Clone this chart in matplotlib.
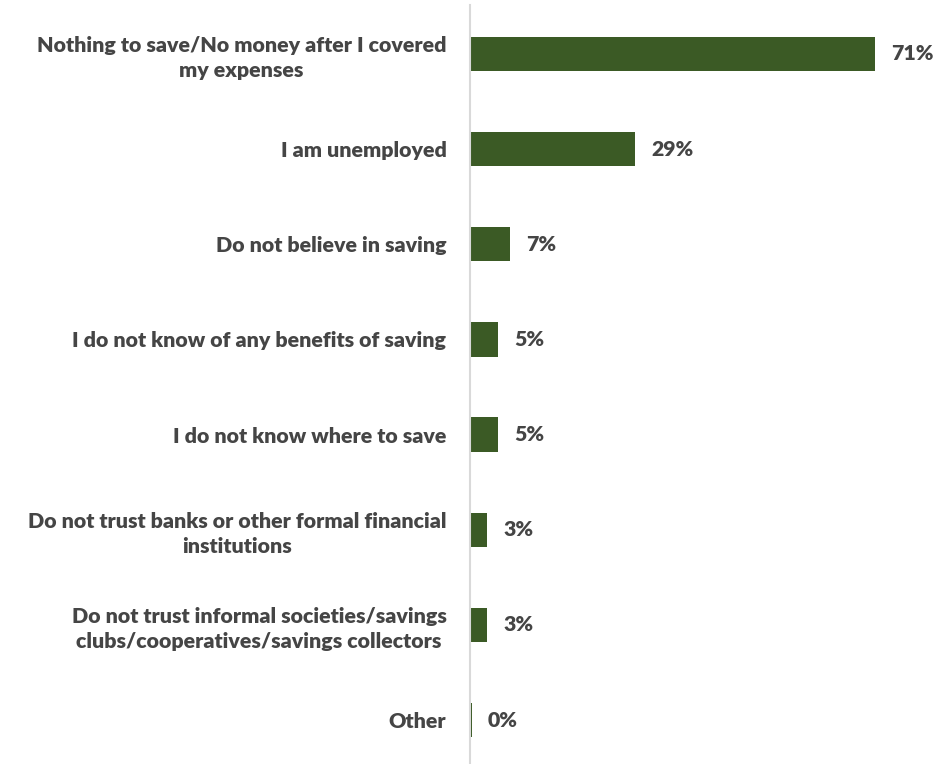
import matplotlib.pyplot as plt

# Reasons for not saving, share of respondents (%)
reasons = [
    "Nothing to save/No money after I covered\nmy expenses",
    "I am unemployed",
    "Do not believe in saving",
    "I do not know of any benefits of saving",
    "I do not know where to save",
    "Do not trust banks or other formal financial\ninstitutions",
    "Do not trust informal societies/savings\nclubs/cooperatives/savings collectors",
    "Other",
]
shares = [71, 29, 7, 5, 5, 3, 3, 0.3]
share_labels = ["71%", "29%", "7%", "5%", "5%", "3%", "3%", "0%"]

bar_color = "#3b5a25"
text_color = "#454545"

fig = plt.figure(figsize=(9.53, 7.64), dpi=100)
ax = fig.add_axes([470 / 953, 0, 1 - 470 / 953, 1 - 5 / 764])

y = list(range(len(reasons)))
ax.barh(y, shares, height=0.36, color=bar_color)

for yi, v, lab in zip(y, shares, share_labels):
    ax.text(v + 2.8, yi, lab, va="center", ha="left", fontsize=15.3,
            fontweight="heavy", color=text_color, family="Lato")

ax.set_xlim(0, (953 - 470) / 5.70)
ax.set_ylim(7 + 44 / 95.3, -49 / 95.3)

ax.set_yticks(y)
ax.set_yticklabels(reasons, fontsize=15.4, fontweight="heavy", color=text_color,
                   family="Lato", multialignment="center", linespacing=1.35)
ax.tick_params(axis="y", length=0, pad=17)
ax.set_xticks([])

for side in ["top", "right", "bottom"]:
    ax.spines[side].set_visible(False)
ax.spines["left"].set_color("#d9d9d9")
ax.spines["left"].set_linewidth(1.5)

fig.savefig("out.png", dpi=100)
